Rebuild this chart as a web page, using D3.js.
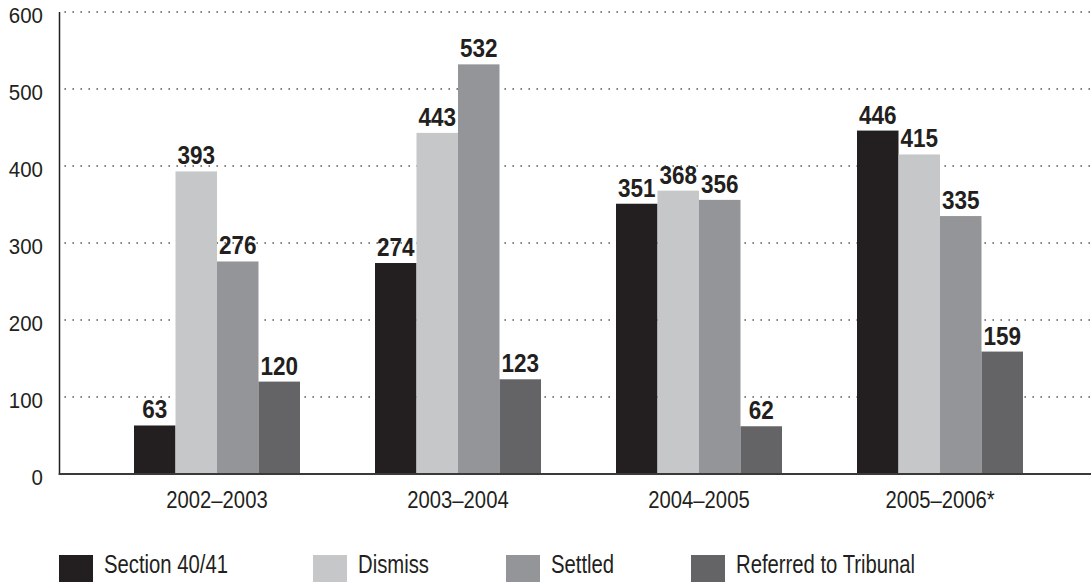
<!DOCTYPE html>
<html>
<head>
<meta charset="utf-8">
<script src="https://cdn.jsdelivr.net/npm/d3@7"></script>
<style>
  body { margin: 0; background: #fff; }
  text { font-family: "Liberation Sans", Arial, sans-serif; fill: #231f20; }
</style>
</head>
<body>
<svg id="mainsvg" width="1091" height="582"></svg>
<script>
const periods = ['2002\u20132003', '2003\u20132004', '2004\u20132005', '2005\u20132006*'];
const seriesNames = ['Section 40/41', 'Dismiss', 'Settled', 'Referred to Tribunal'];
const seriesColors = ['#231f20', '#c6c7c9', '#939598', '#646466'];
const section4041 = [63, 274, 351, 446];
const dismiss = [393, 443, 368, 415];
const settled = [276, 532, 356, 335];
const referred = [120, 123, 62, 159];
const yTicks = [0, 100, 200, 300, 400, 500, 600];

const svg = d3.select('#mainsvg');
const axisX = 59.5, plotRight = 1091;
const y0 = 474, yTop = 12;

const values = [section4041, dismiss, settled, referred];
const data = periods.map((p, i) => ({period: p, vals: values.map((s, j) => ({key: j, value: s[i]}))}));

const yScale = d3.scaleLinear().domain([0, 600]).range([y0, yTop]);
const xScale = d3.scaleBand().domain(periods).range([96.5, 1060.5]).paddingInner(0).paddingOuter(0);
const xInner = d3.scaleBand().domain(d3.range(4)).range([0, 166]);

// condensed-looking text: squeeze horizontally
function squeezed(sel, sx) {
  return sel.attr('transform', function(d, i) {
    const x = +this.getAttribute('data-x'), y = +this.getAttribute('data-y');
    return `translate(${x},${y}) scale(${sx},1)`;
  });
}

// gridlines (dotted)
svg.append('g').selectAll('line').data(yTicks.filter(d => d > 0)).join('line')
  .attr('x1', axisX + 5).attr('x2', plotRight)
  .attr('y1', d => yScale(d)).attr('y2', d => yScale(d))
  .attr('stroke', '#444').attr('stroke-width', 1.4)
  .attr('stroke-dasharray', '1.4,6.6');

// bars
const groups = svg.append('g').selectAll('g').data(data).join('g')
  .attr('transform', d => `translate(${xScale(d.period) + (xScale.bandwidth() - 166) / 2},0)`);

groups.selectAll('rect').data(d => d.vals).join('rect')
  .attr('x', d => xInner(d.key))
  .attr('width', xInner.bandwidth())
  .attr('y', d => yScale(d.value))
  .attr('height', d => y0 - yScale(d.value))
  .attr('fill', d => seriesColors[d.key]);

groups.selectAll('text').data(d => d.vals).join('text')
  .attr('data-x', d => xInner(d.key) + xInner.bandwidth() / 2)
  .attr('data-y', d => yScale(d.value) - 7)
  .attr('text-anchor', 'middle')
  .style('font-size', '25px')
  .style('font-weight', 'bold')
  .text(d => d.value)
  .call(squeezed, 0.9);

// axes lines
svg.append('line').attr('x1', axisX).attr('x2', axisX).attr('y1', yTop).attr('y2', y0 + 1)
  .attr('stroke', '#231f20').attr('stroke-width', 1.5);
svg.append('line').attr('x1', axisX - 0.75).attr('x2', plotRight).attr('y1', y0).attr('y2', y0)
  .attr('stroke', '#3a3a3a').attr('stroke-width', 2);

// y tick labels
svg.append('g').selectAll('text').data(yTicks).join('text')
  .attr('data-x', 43).attr('data-y', d => yScale(d) + 11)
  .attr('text-anchor', 'end')
  .style('font-size', '22px')
  .text(d => d)
  .call(squeezed, 0.93);

// x labels
svg.append('g').selectAll('text').data(periods).join('text')
  .attr('data-x', d => xScale(d) + xScale.bandwidth() / 2)
  .attr('data-y', 508)
  .attr('text-anchor', 'middle')
  .style('font-size', '23px')
  .text(d => d)
  .call(squeezed, 0.88);

// legend
const legendX = [59, 313, 506, 691];
const legend = svg.append('g').selectAll('g').data(seriesNames).join('g')
  .attr('transform', (d, i) => `translate(${legendX[i]},555)`);
legend.append('rect').attr('width', 34).attr('height', 27).attr('fill', (d, i) => seriesColors[i]);
legend.append('text').attr('data-x', 45).attr('data-y', 18)
  .style('font-size', '26px').text(d => d)
  .call(squeezed, 0.78);
</script>
</body>
</html>
